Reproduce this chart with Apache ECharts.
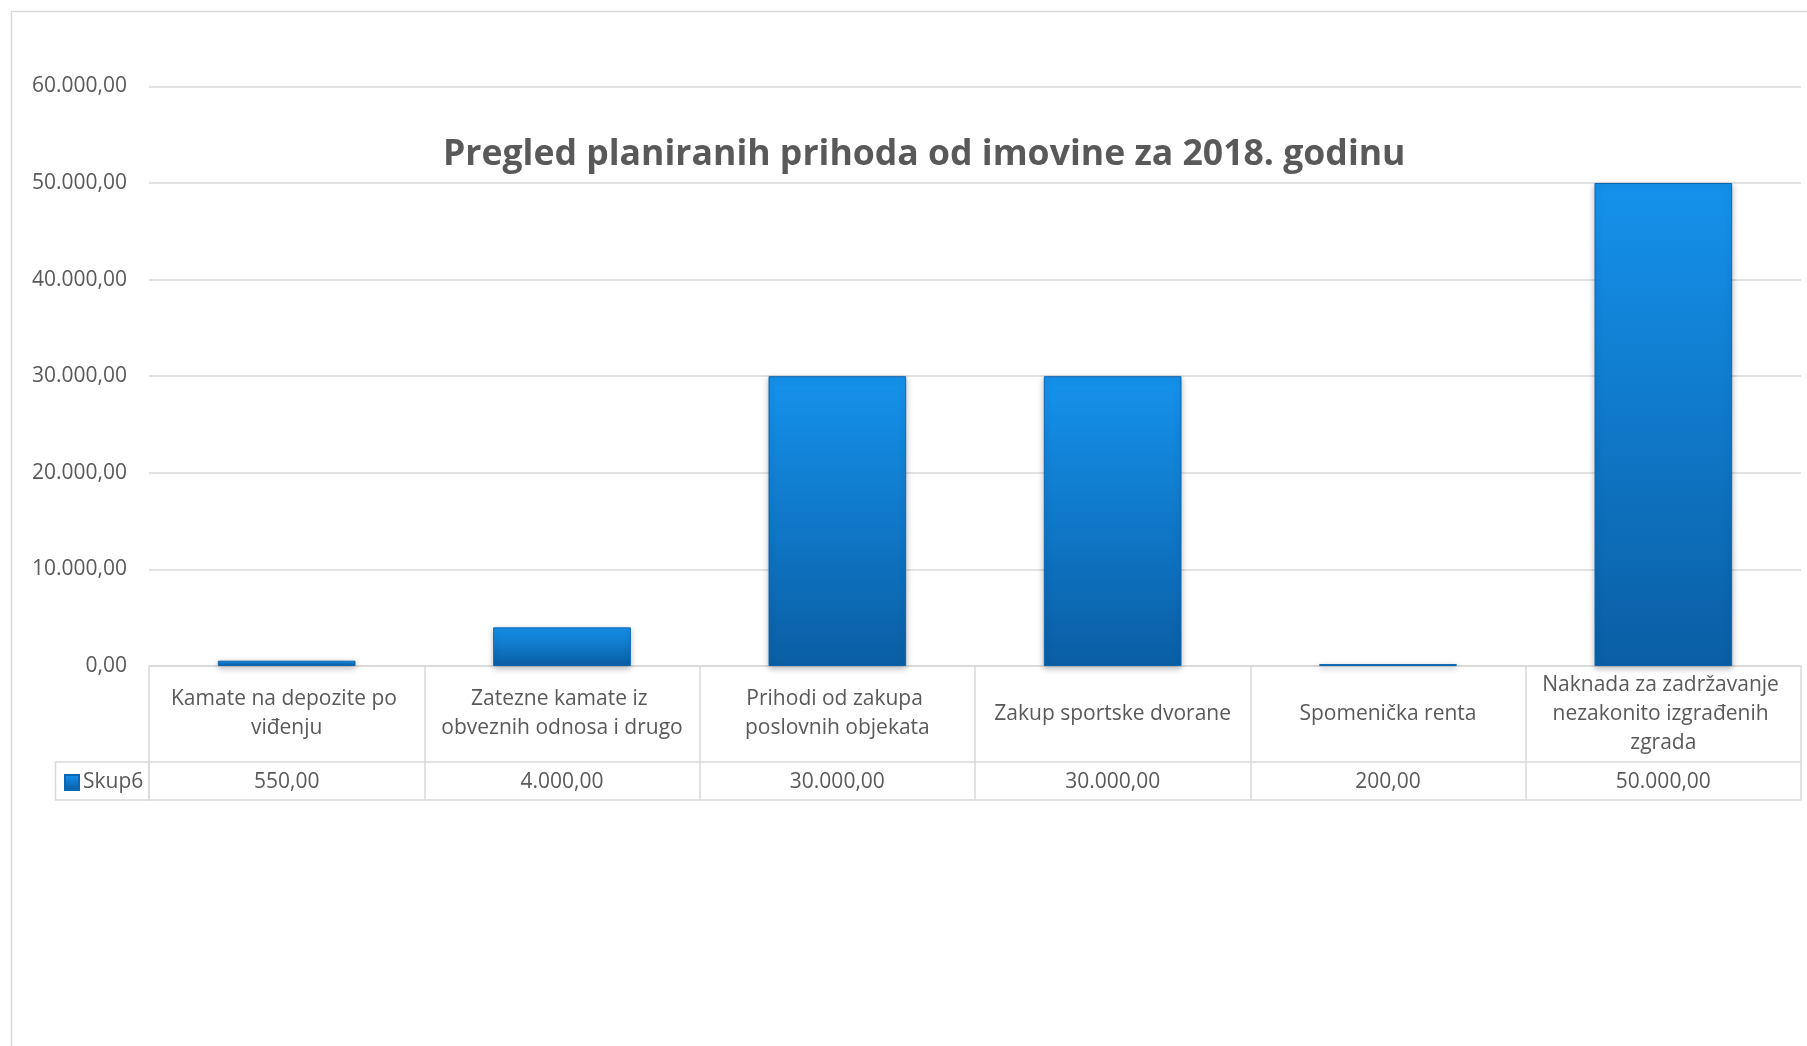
<!DOCTYPE html>
<html>
<head>
<meta charset="utf-8">
<script src="https://cdn.jsdelivr.net/npm/echarts@6/dist/echarts.min.js"></script>
<style>
html,body{margin:0;padding:0;background:#fff;}
#chart{width:1807px;height:1046px;}
</style>
</head>
<body>
<div id="chart"></div>
<script>
const titleText = 'Pregled planiranih prihoda od imovine za 2018. godinu';
const seriesName = 'Skup6';
const categories = [
  'Kamate na depozite po viđenju',
  'Zatezne kamate iz obveznih odnosa i drugo',
  'Prihodi od zakupa poslovnih objekata',
  'Zakup sportske dvorane',
  'Spomenička renta',
  'Naknada za zadržavanje nezakonito izgrađenih zgrada'
];
const values = [550, 4000, 30000, 30000, 200, 50000];
const yMin = 0, yMax = 60000, yInterval = 10000;

function fmt(v) {
  const neg = v < 0;
  v = Math.abs(v);
  const fixed = v.toFixed(2);
  let [intPart, dec] = fixed.split('.');
  intPart = intPart.replace(/\B(?=(\d{3})+(?!\d))/g, '.');
  return (neg ? '-' : '') + intPart + ',' + dec;
}

const FONT = 'Open Sans';
const TXT = '#595959';
const LINE = '#d9d9d9';
const FS = 21;

const chart = echarts.init(document.getElementById('chart'));
chart.setOption({
  animation: false,
  backgroundColor: '#fff',
  textStyle: { fontFamily: FONT, color: TXT },
  title: {
    text: titleText,
    left: 438,
    top: 132,
    textStyle: { fontFamily: FONT, fontWeight: 'bold', fontSize: 35.6, color: TXT }
  },
  legend: {
    data: [seriesName],
    left: 59,
    top: 767,
    icon: 'rect',
    itemWidth: 14,
    itemHeight: 15,
    itemGap: 6,
    textStyle: { fontFamily: FONT, fontSize: FS, color: TXT, padding: [0, 0, 0, -1] }
  },
  grid: { left: 149, right: 6, top: 86.4, bottom: 380, containLabel: false },
  xAxis: [
    {
      type: 'category',
      data: categories,
      boundaryGap: true,
      axisLine: { show: true, lineStyle: { color: LINE, width: 1.5 } },
      axisTick: { show: true, inside: false, length: 134, interval: 0, lineStyle: { color: LINE, width: 1.5 } },
      axisLabel: {
        interval: 0,
        margin: 48,
        verticalAlign: 'middle',
        fontFamily: FONT,
        fontSize: FS,
        color: TXT,
        lineHeight: 29,
        width: 258,
        overflow: 'break'
      }
    },
    {
      type: 'category',
      data: categories,
      position: 'bottom',
      offset: 96,
      axisLine: { show: true, lineStyle: { color: LINE, width: 1.5 } },
      axisTick: { show: false },
      axisLabel: {
        interval: 0,
        margin: 20,
        verticalAlign: 'middle',
        fontFamily: FONT,
        fontSize: FS,
        color: TXT,
        formatter: (v, i) => fmt(values[i])
      }
    },
    {
      type: 'category',
      data: categories,
      position: 'bottom',
      offset: 134,
      axisLine: { show: true, lineStyle: { color: LINE, width: 1.5 } },
      axisTick: { show: false },
      axisLabel: { show: false }
    }
  ],
  yAxis: {
    type: 'value',
    min: yMin,
    max: yMax,
    interval: yInterval,
    axisLine: { show: false },
    axisTick: { show: false },
    splitLine: { lineStyle: { color: LINE, width: 1.5 } },
    axisLabel: {
      margin: 22,
      fontFamily: FONT,
      fontSize: FS,
      color: TXT,
      formatter: v => fmt(v)
    }
  },
  series: [{
    name: seriesName,
    type: 'bar',
    xAxisIndex: 0,
    data: values,
    barWidth: '50%',
    itemStyle: {
      color: new echarts.graphic.LinearGradient(0, 0, 0, 1, [
        { offset: 0, color: '#1592ec' },
        { offset: 1, color: '#0a5ea4' }
      ]),
      borderColor: '#0c66b2',
      borderWidth: 1,
      shadowColor: 'rgba(0,0,0,0.28)',
      shadowBlur: 6,
      shadowOffsetY: 2
    }
  }],
  graphic: [
    {
      type: 'rect',
      silent: true,
      shape: { x: 11.5, y: 11.5, width: 2000, height: 2000 },
      style: { fill: 'none', stroke: LINE, lineWidth: 1.5 }
    },
    {
      type: 'rect',
      silent: true,
      shape: { x: 55.5, y: 762, width: 93.5, height: 38 },
      style: { fill: 'none', stroke: LINE, lineWidth: 1.5 }
    }
  ]
});
</script>
</body>
</html>
